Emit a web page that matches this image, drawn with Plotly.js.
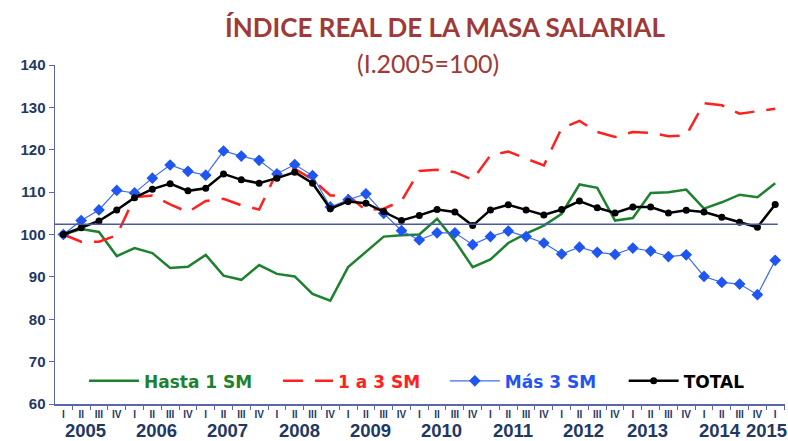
<!DOCTYPE html>
<html>
<head>
<meta charset="utf-8">
<script src="https://cdn.plot.ly/plotly-3.0.1.min.js"></script>
<style>html,body{margin:0;padding:0;background:#fff;}#chart{width:788px;height:441px;}</style>
</head>
<body>
<div id="chart"></div>
<script>
// Quarter tick labels (2005 I ... 2015 I)
const quarterLabels = ['I','II','III','IV','I','II','III','IV','I','II','III','IV','I','II','III','IV',
  'I','II','III','IV','I','II','III','IV','I','II','III','IV','I','II','III','IV',
  'I','II','III','IV','I','II','III','IV','I'];
const years = ['2005','2006','2007','2008','2009','2010','2011','2012','2013','2014','2015'];
const yearQuarterCounts = [4,4,4,4,4,4,4,4,4,4,1];
const yTickValues = [60,70,80,90,100,110,120,130,140];

// Series values
const hasta1SM = [100, 101.3, 100.6, 94.9, 96.8, 95.6, 92.1, 92.4, 95.2, 90.3, 89.3,
  92.8, 90.7, 90.1, 86.0, 84.4, 92.3, 95.8, 99.5, 99.8, 100.0,
  103.7, 98.5, 92.3, 94.1, 98.0, 100.2, 102.1, 104.9, 111.8, 111.0,
  103.3, 103.9, 109.8, 110.0, 110.6, 106.1, 107.6, 109.4, 108.8, 112.1];
const de1a3SM = [100, 98.3, 98.3, 99.8, 108.8, 109.2, 107.1, 105.3, 107.9, 108.4, 106.9,
  105.9, 114.7, 115.5, 113.0, 109.2, 109.2, 105.7, 106.1, 107.9, 115.0,
  115.3, 114.7, 112.9, 118.7, 119.6, 117.9, 116.3, 125.1, 126.8, 124.2,
  123.0, 124.2, 124.0, 123.2, 123.4, 131.0, 130.5, 128.5, 129.1, 129.7];
const mas3SM = [100, 103.3, 105.8, 110.4, 109.8, 113.3, 116.4, 114.9, 114.0, 119.7, 118.5,
  117.5, 114.3, 116.5, 113.9, 106.5, 108.2, 109.6, 105.0, 100.9, 98.7,
  100.4, 100.4, 97.6, 99.5, 100.8, 99.5, 98.0, 95.4, 97.0, 95.8,
  95.3, 96.8, 96.1, 94.8, 95.2, 90.1, 88.7, 88.3, 85.8, 93.9];
const total = [100, 101.6, 103.2, 105.8, 108.7, 110.7, 112.0, 110.3, 110.9, 114.3, 112.9,
  112.1, 113.3, 114.7, 112.1, 106.1, 107.8, 107.4, 105.4, 103.3, 104.5,
  105.9, 105.3, 102.1, 105.8, 107.0, 105.8, 104.6, 105.9, 107.9, 106.3,
  105.1, 106.5, 106.5, 105.1, 105.7, 105.3, 104.1, 102.9, 101.7, 107.1];
const referenceLevel = 102.4;

const xIdx = quarterLabels.map((_, i) => i);
const navy = '#1F3864';
const axisCol = '#5B67A6';
const titleCol = '#9E3A38';

const traces = [
  {x: xIdx, y: hasta1SM, type: 'scatter', mode: 'lines', legend: 'legend',
   name: '<span style="color:#1E8130"><b>Hasta 1 SM</b></span>',
   line: {color: '#1E8130', width: 2.5}},
  {x: xIdx, y: de1a3SM, type: 'scatter', mode: 'lines', legend: 'legend2',
   name: '<span style="color:#FF2020"><b>1 a 3 SM</b></span>',
   line: {color: '#FF2020', width: 2.5, dash: '20px,12px'}},
  {x: xIdx, y: mas3SM, type: 'scatter', mode: 'lines+markers', legend: 'legend3',
   name: '<span style="color:#1F55F0"><b>Más 3 SM</b></span>',
   line: {color: '#3F6CF0', width: 1.2},
   marker: {symbol: 'diamond', size: 9, color: '#1F55F0'}},
  {x: xIdx, y: total, type: 'scatter', mode: 'lines+markers', legend: 'legend4',
   name: '<span style="color:#000"><b>TOTAL</b></span>',
   line: {color: '#000', width: 2.5},
   marker: {symbol: 'circle', size: 7, color: '#000'}}
];

// Year annotations below their quarters (label placement nudges as in the original)
const yearLabelNudge = {'2013': -0.4, '2014': -0.35, '2015': -0.5};
const annotations = [];
let start = 0;
years.forEach((yr, k) => {
  const n = yearQuarterCounts[k];
  const base = n > 1 ? start + 1.25 : start;
  annotations.push({x: base + (yearLabelNudge[yr] || 0), y: 0, xref: 'x', yref: 'paper',
    text: '<b>' + yr + '</b>', showarrow: false, yanchor: 'middle', yshift: -26,
    font: {family: 'Arial, Liberation Sans, sans-serif', size: 18.5, color: navy}});
  start += n;
});
annotations.push({x: 0.511, y: 1.006, xref: 'paper', yref: 'paper', yanchor: 'middle',
  text: '(I.2005=100)', showarrow: false,
  font: {family: 'Lato, sans-serif', size: 25, color: titleCol}});

function legendAt(xpos) {
  return {orientation: 'h', x: xpos, y: 0.12, xanchor: 'left', yanchor: 'top', itemwidth: 50,
    bgcolor: 'rgba(0,0,0,0)', font: {family: 'DejaVu Sans, Arial, sans-serif', size: 17}};
}

const layout = {
  width: 788, height: 441,
  margin: {l: 55, r: 3, t: 65, b: 37},
  paper_bgcolor: '#fff', plot_bgcolor: '#fff',
  title: {text: '<b>ÍNDICE REAL DE LA MASA SALARIAL</b>', x: 445 / 788, xanchor: 'center',
    y: 1 - 28 / 441, yanchor: 'middle',
    font: {family: 'Lato, sans-serif', size: 26, color: titleCol}},
  showlegend: true,
  legend: legendAt(0.0397),
  legend2: legendAt(0.3055),
  legend3: legendAt(0.534),
  legend4: legendAt(0.779),
  xaxis: {range: [-0.47, 40.55], tickmode: 'array', tickvals: xIdx,
    ticktext: quarterLabels.map(q => '<b>' + q + '</b>'),
    ticks: '', showgrid: false, zeroline: false, showline: true, linecolor: axisCol, linewidth: 1.5,
    tickfont: {family: 'Arial, Liberation Sans, sans-serif', size: 10, color: navy},
    minor: {tickmode: 'linear', tick0: 0.5, dtick: 1, ticks: 'outside', ticklen: 4, tickcolor: axisCol, showgrid: false}},
  yaxis: {range: [60, 140], tickmode: 'array', tickvals: yTickValues,
    ticktext: yTickValues.map(v => '<b>' + v + '</b>'), ticks: 'outside', ticklen: 5,
    tickcolor: axisCol, showgrid: false, zeroline: false, showline: true, linecolor: axisCol, linewidth: 1.5,
    tickfont: {family: 'Arial, Liberation Sans, sans-serif', size: 15, color: navy}},
  shapes: [{type: 'line', xref: 'paper', x0: 0, x1: 0.99, yref: 'y', y0: referenceLevel, y1: referenceLevel,
    line: {color: '#4B5A9E', width: 1.5}}],
  annotations: annotations
};

Plotly.newPlot('chart', traces, layout, {displayModeBar: false, staticPlot: true});
</script>
</body>
</html>
